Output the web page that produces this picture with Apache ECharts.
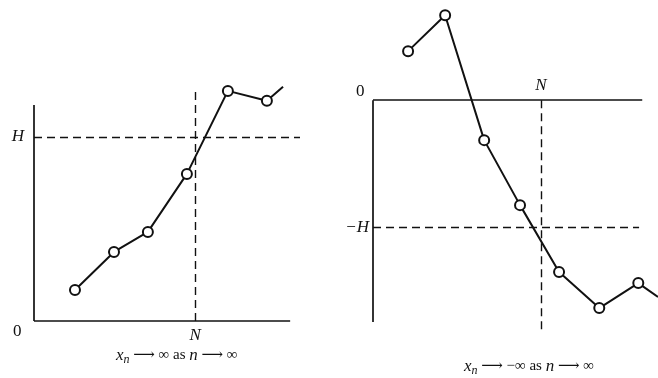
<!DOCTYPE html>
<html>
<head>
<meta charset="utf-8">
<script src="https://cdn.jsdelivr.net/npm/echarts@6/dist/echarts.min.js"></script>
<style>
  html, body { margin: 0; padding: 0; background: #fff; }
  #chart { width: 658px; height: 378px; }
</style>
</head>
<body>
<div id="chart"></div>
<script>
// left panel: x_n -> +inf
const leftX = [1.04, 2.03, 2.89, 3.88, 4.92, 5.91]
const leftY = [1.68, 3.75, 4.84, 7.99, 12.5, 11.96]
const leftTail = [6.32, 12.72]
const leftH = 10
const leftN = 4.09

// right panel: x_n -> -inf
const rightX = [0.89, 1.83, 2.82, 3.73, 4.72, 5.74, 6.73]
const rightY = [3.86, 6.69, -3.15, -8.27, -13.54, -16.38, -14.41]
const rightTail = [7.23, -15.5]
const rightH = -10
const rightN = 4.26

const ink = '#111'
const serif = '"Liberation Serif", "DejaVu Serif", serif'

const points = (xs, ys, tail) => {
  const data = xs.map((x, i) => [x, ys[i]])
  data.push({ value: tail, symbol: 'none' })
  return data
}

const solid = { type: 'solid', color: ink, width: 1.7 }
const dashed = { type: [8, 5], color: ink, width: 1.4 }
const labelStyle = {
  color: ink,
  fontFamily: serif,
  fontStyle: 'italic',
  fontSize: 17
}

const seg = (a, b, lineStyle, label) => [
  { coord: a, lineStyle, label: label || { show: false } },
  { coord: b }
]

const lineSeries = (idx, data, marks) => ({
  type: 'line',
  xAxisIndex: idx,
  yAxisIndex: idx,
  data,
  clip: false,
  symbol: 'circle',
  symbolSize: 10,
  lineStyle: { color: ink, width: 2 },
  itemStyle: { color: '#fff', borderColor: ink, borderWidth: 2 },
  z: 3,
  markLine: {
    silent: true,
    symbol: ['none', 'none'],
    animation: false,
    data: marks
  }
})

const hiddenAxis = (gridIndex, min, max) => ({
  type: 'value',
  gridIndex,
  min,
  max,
  show: false
})

const caption = {
  fill: ink,
  font: '15px ' + serif,
  rich: {
    i: { fontStyle: 'italic', fontSize: 17, fontFamily: serif },
    s: { fontStyle: 'italic', fontSize: 12, fontFamily: serif, padding: [8, 0, 0, 0] }
  }
}

const chart = echarts.init(document.getElementById('chart'))

chart.setOption({
  animation: false,
  backgroundColor: '#fff',
  grid: [
    { left: 34, top: 78, width: 266, height: 243 },
    { left: 373, top: 10, width: 285, height: 325 }
  ],
  xAxis: [hiddenAxis(0, 0, 6.75), hiddenAxis(1, 0, 7.23)],
  yAxis: [hiddenAxis(0, 0, 13.2), hiddenAxis(1, -18.5, 7.1)],
  series: [
    lineSeries(0, points(leftX, leftY, leftTail), [
      seg([0, 0], [0, 11.74], solid),
      seg([0, 0], [6.5, 0], solid),
      seg([0, leftH], [6.75, leftH], dashed,
        { show: true, position: 'start', formatter: 'H', distance: 10, ...labelStyle }),
      seg([leftN, 0], [leftN, 12.66], dashed,
        { show: true, position: 'start', formatter: 'N', distance: 6, ...labelStyle })
    ]),
    lineSeries(1, points(rightX, rightY, rightTail), [
      seg([0, 0], [0, -17.48], solid),
      seg([0, 0], [6.83, 0], solid),
      seg([0, rightH], [6.75, rightH], dashed,
        { show: true, position: 'start', formatter: '−H', distance: 4, ...labelStyle }),
      seg([rightN, 0], [rightN, -18.35], dashed,
        { show: true, position: 'start', formatter: 'N', distance: 6, ...labelStyle })
    ])
  ],
  graphic: [
    {
      type: 'text', left: 13, top: 323,
      style: { text: '0', fill: ink, font: '17px ' + serif }
    },
    {
      type: 'text', left: 356, top: 83,
      style: { text: '0', fill: ink, font: '17px ' + serif }
    },
    {
      type: 'text', left: 116, top: 347,
      style: { text: '{i|x}{s|n} ⟶ ∞ as {i|n} ⟶ ∞', ...caption }
    },
    {
      type: 'text', left: 464, top: 358,
      style: { text: '{i|x}{s|n} ⟶ −∞ as {i|n} ⟶ ∞', ...caption }
    }
  ]
})
</script>
</body>
</html>
